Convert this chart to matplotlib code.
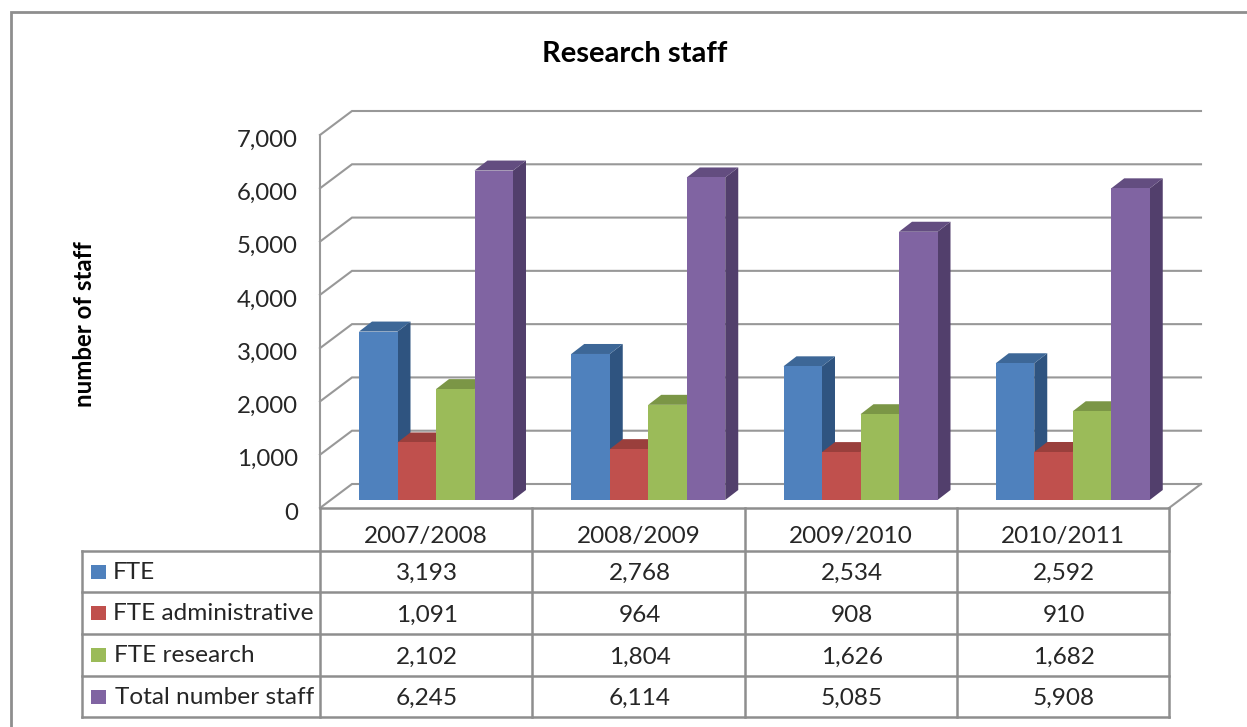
import matplotlib
matplotlib.use("Agg")
import matplotlib.pyplot as plt
from matplotlib.patches import Rectangle
from matplotlib.ticker import StrMethodFormatter
from matplotlib.transforms import ScaledTranslation

years = ["2007/2008", "2008/2009", "2009/2010", "2010/2011"]
series_names = ["FTE", "FTE administrative", "FTE research", "Total number staff"]
fte = [3193, 2768, 2534, 2592]
fte_admin = [1091, 964, 908, 910]
fte_research = [2102, 1804, 1626, 1682]
total_staff = [6245, 6114, 5085, 5908]
yticks = [0, 1000, 2000, 3000, 4000, 5000, 6000, 7000]

W, H = 1247, 727
GRID = "#989898"
LINE = "#8e8e8e"
FRONT = ["#4f81bd", "#c0504d", "#9bbb59", "#8064a2"]
SIDE = ["#2f5480", "#843533", "#6c833c", "#523f6c"]
TOP = ["#3d6797", "#9a3f3c", "#7b9646", "#634d80"]
TEXT = "#262626"

# pixel sizes of the fake 3d, turned into data units below
PX_X = 4 / (1169 - 320)
PX_Y = 7000 / (508 - 135)
WALL_X, WALL_Y = 32 * PX_X, 24 * PX_Y
SIDE_X, SIDE_Y = 13 * PX_X, 10 * PX_Y
BAR_W = 38.5 * PX_X
BAR_X0 = 39 * PX_X
LIFT = 8 * PX_Y
BAR_SCALE = 0.99


def px_axes(fig):
    # overlay in image pixels for the frame and the data table
    ax = fig.add_axes([0, 0, 1, 1], zorder=3)
    ax.set_xlim(0, W)
    ax.set_ylim(H, 0)
    ax.axis("off")
    return ax


def draw_walls(ax):
    for v in yticks:
        ax.plot([0, WALL_X, 4 + WALL_X], [v, v + WALL_Y, v + WALL_Y], color=GRID,
                lw=1.5, clip_on=False, zorder=1, solid_joinstyle="miter")
    ax.plot([4, 4 + WALL_X], [0, WALL_Y], color=GRID, lw=1.5, clip_on=False, zorder=1)


def draw_bars(ax):
    all_series = [fte, fte_admin, fte_research, total_staff]
    for c in range(len(years)):
        for s, values in enumerate(all_series):
            x = c + BAR_X0 + s * BAR_W
            h = values[c] * BAR_SCALE
            y = LIFT + h
            z = 2 + c + s * 0.1
            ax.fill([x + BAR_W, x + BAR_W + SIDE_X, x + BAR_W + SIDE_X, x + BAR_W],
                    [LIFT, LIFT + SIDE_Y, y + SIDE_Y, y],
                    color=SIDE[s], lw=0, clip_on=False, zorder=z)
            ax.fill([x, x + SIDE_X, x + BAR_W + SIDE_X, x + BAR_W],
                    [y, y + SIDE_Y, y + SIDE_Y, y],
                    color=TOP[s], lw=0, clip_on=False, zorder=z)
            ax.bar(x, h, BAR_W, bottom=LIFT, align="edge", color=FRONT[s],
                   lw=0, clip_on=False, zorder=z + 0.01)


def draw_table(ax):
    cols = [320, 532, 745, 957, 1169]
    rows = [551, 592, 634, 676, 717]
    for x in cols:
        ax.plot([x, x], [508, 717], color=LINE, lw=1.8, solid_capstyle="projecting")
    ax.plot([320, 1169], [508, 508], color=LINE, lw=1.8)
    for y in rows:
        ax.plot([82, 1169], [y, y], color=LINE, lw=1.8, solid_capstyle="projecting")
    ax.plot([82, 82], [551, 717], color=LINE, lw=1.8, solid_capstyle="projecting")

    all_series = [fte, fte_admin, fte_research, total_staff]
    name_x = [113, 113, 114, 115]
    for s, name in enumerate(series_names):
        yc = (rows[s] + rows[s + 1]) / 2
        ax.add_patch(Rectangle((91, yc - 7), 15, 14, color=FRONT[s], lw=0))
        ax.text(name_x[s], yc - 1, name, ha="left", va="center_baseline", fontsize=17.6, color=TEXT)
        for c, v in enumerate(all_series[s]):
            ax.text((cols[c] + cols[c + 1]) / 2 + 1, yc, f"{v:,}", ha="center",
                    va="center_baseline", fontsize=17.6, color=TEXT)


def main():
    plt.rcParams["font.family"] = ["Lato", "DejaVu Sans"]
    fig = plt.figure(figsize=(W / 100, H / 100), dpi=100)

    ax = fig.add_axes([320 / W, (H - 508) / H, 849 / W, 373 / H], zorder=2)
    ax.patch.set_visible(False)
    ax.set_xlim(0, 4)
    ax.set_ylim(0, 7000)
    ax.spines[["right", "top", "bottom"]].set_visible(False)
    ax.spines["left"].set_color(GRID)
    ax.spines["left"].set_linewidth(1.5)
    ax.set_yticks(yticks)
    ax.yaxis.set_major_formatter(StrMethodFormatter("{x:,.0f}"))
    ax.tick_params(axis="y", length=0, pad=16, labelsize=17.3, labelcolor=TEXT)
    nudge = ScaledTranslation(0, -3 / 100, fig.dpi_scale_trans)
    for label in ax.get_yticklabels():
        label.set_transform(label.get_transform() + nudge)
    ax.set_xticks([i + 0.5 for i in range(len(years))], years)
    ax.tick_params(axis="x", length=0, pad=13, labelsize=17.5, labelcolor=TEXT)
    draw_walls(ax)
    draw_bars(ax)

    over = px_axes(fig)
    over.plot([11, 11, W], [H, 12, 12], color=LINE, lw=2, solid_joinstyle="miter")
    draw_table(over)
    over.text(635, 54, "Research staff", ha="center", va="center", fontsize=21,
              fontweight="bold", color="black")
    over.text(85, 324, "number of staff", ha="center", va="center", rotation=90,
              fontsize=17.3, fontweight="bold", color="black")

    fig.savefig("out.png", dpi=100)


if __name__ == "__main__":
    main()
